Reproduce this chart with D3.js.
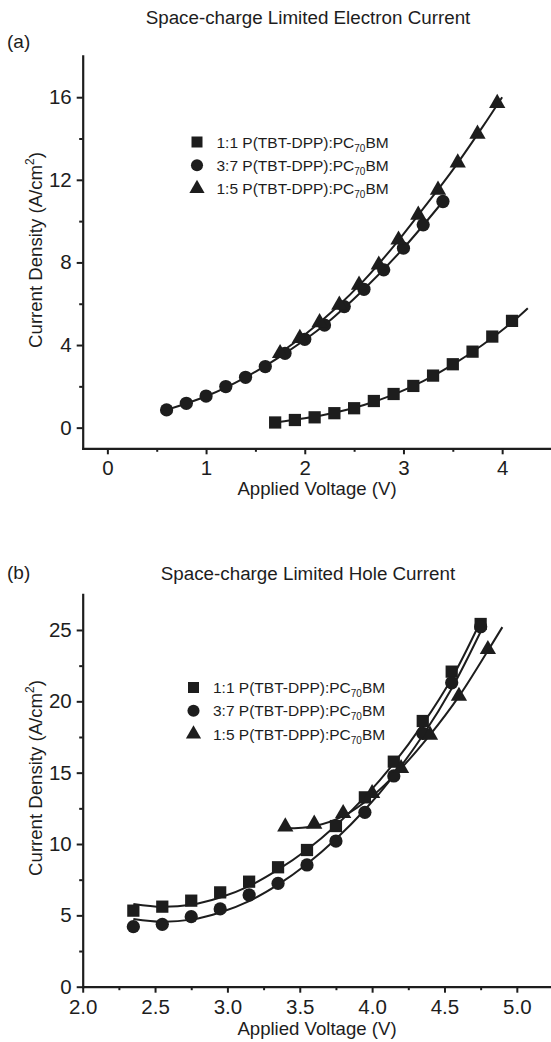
<!DOCTYPE html>
<html>
<head>
<meta charset="utf-8">
<script src="https://cdn.jsdelivr.net/npm/d3@7"></script>
<style>
  body { margin: 0; background: #fff; }
  svg { display: block; font-family: "Liberation Sans", Arial, sans-serif; }
</style>
</head>
<body>
<svg id="chart" width="551" height="1042"></svg>
<script>
// legend text (ratio, subscript split around "70")
const seriesRatios = ['1:1', '3:7', '1:5'];

// (a) space-charge limited electron current
const elecVoltSq = [1.7, 1.9, 2.1, 2.3, 2.5, 2.7, 2.9, 3.1, 3.3, 3.5, 3.7, 3.9, 4.1];
const elecCurSq = [0.25, 0.37, 0.5, 0.7, 0.94, 1.29, 1.63, 2.02, 2.52, 3.07, 3.68, 4.41, 5.17];
const elecVoltCi = [0.6, 0.8, 1.0, 1.2, 1.4, 1.6, 1.8, 2.0, 2.2, 2.4, 2.6, 2.8, 3.0, 3.2, 3.4];
const elecCurCi = [0.86, 1.18, 1.53, 1.99, 2.44, 2.96, 3.6, 4.28, 4.97, 5.86, 6.7, 7.64, 8.69, 9.82, 10.95];
const elecVoltTr = [1.75, 1.95, 2.15, 2.35, 2.55, 2.75, 2.95, 3.15, 3.35, 3.55, 3.75, 3.95];
const elecCurTr = [3.6, 4.33, 5.09, 5.94, 6.91, 7.88, 9.09, 10.3, 11.51, 12.83, 14.22, 15.71];

// fitted curves
const elecFitSq = [[1.7, 0.25], [2.0, 0.45], [2.3, 0.72], [2.6, 1.1], [2.9, 1.6], [3.2, 2.25], [3.5, 3.05], [3.8, 4.0], [4.1, 5.1], [4.26, 5.78]];
const elecFitCi = [[0.6, 0.86], [1.0, 1.52], [1.4, 2.44], [1.8, 3.6], [2.2, 4.97], [2.6, 6.7], [3.0, 8.69], [3.4, 10.95]];
const elecFitTr = [[1.7, 3.45], [2.0, 4.5], [2.3, 5.72], [2.6, 7.13], [2.9, 8.78], [3.2, 10.6], [3.5, 12.48], [3.8, 14.55], [4.0, 16.0]];

// (b) space-charge limited hole current
const holeVolt = [2.35, 2.55, 2.75, 2.95, 3.15, 3.35, 3.55, 3.75, 3.95, 4.15, 4.35, 4.55, 4.75];
const holeCurSq = [5.33, 5.61, 6.03, 6.61, 7.36, 8.37, 9.58, 11.26, 13.27, 15.77, 18.62, 22.08, 25.42];
const holeCurCi = [4.21, 4.37, 4.91, 5.45, 6.43, 7.24, 8.53, 10.21, 12.22, 14.77, 17.76, 21.3, 25.23];
const holeVoltTr = [3.4, 3.6, 3.8, 4.0, 4.2, 4.4, 4.6, 4.8];
const holeCurTr = [11.21, 11.4, 12.15, 13.55, 15.3, 17.64, 20.37, 23.64];

const holeFitSq = [[2.35, 5.8], [2.55, 5.6], [2.75, 5.75], [2.95, 6.25], [3.15, 7.05], [3.35, 8.2], [3.55, 9.6], [3.75, 11.3], [3.95, 13.3], [4.15, 15.65], [4.35, 18.4], [4.55, 21.6], [4.74, 25.4]];
const holeFitCi = [[2.35, 4.75], [2.55, 4.55], [2.75, 4.7], [2.95, 5.2], [3.15, 6.0], [3.35, 7.15], [3.55, 8.6], [3.75, 10.35], [3.95, 12.4], [4.15, 14.8], [4.35, 17.6], [4.55, 20.9], [4.77, 25.3]];
const holeFitTr = [[3.4, 11.1], [3.6, 11.25], [3.8, 11.95], [4.0, 13.35], [4.2, 15.3], [4.4, 17.65], [4.6, 20.35], [4.8, 23.55], [4.9, 25.2]];

// ticks
const elecXMajor = [0, 1, 2, 3, 4];
const elecXMinor = [0.5, 1.5, 2.5, 3.5, 4.5];
const elecYMajor = [0, 4, 8, 12, 16];
const elecYMinor = [2, 6, 10, 14];
const holeXMajor = [2.0, 2.5, 3.0, 3.5, 4.0, 4.5, 5.0];
const holeXMinor = [2.25, 2.75, 3.25, 3.75, 4.25, 4.75];
const holeYMajor = [0, 5, 10, 15, 20, 25];
const holeYMinor = [2.5, 7.5, 12.5, 17.5, 22.5];

const ink = '#1d1d1d';
const svg = d3.select('#chart');
const zip = (xs, ys) => xs.map((v, i) => [v, ys[i]]);

function drawPanel(p) {
  let g = svg.append('g');
  let x = d3.scaleLinear().domain(p.xDomain).range(p.xRange);
  let y = d3.scaleLinear().domain(p.yDomain).range(p.yRange);
  let bottom = p.yRange[0];
  let left = p.xRange[0];

  // minor ticks
  g.append('g').attr('transform', `translate(0,${bottom})`)
    .call(d3.axisBottom(x).tickValues(p.xMinor).tickSize(3.5).tickFormat(''))
    .call(a => a.select('.domain').remove());
  g.append('g').attr('transform', `translate(${left},0)`)
    .call(d3.axisLeft(y).tickValues(p.yMinor).tickSize(3.5).tickFormat(''))
    .call(a => a.select('.domain').remove());

  // major ticks + axis lines
  g.append('g').attr('class', 'ax').attr('transform', `translate(0,${bottom})`)
    .call(d3.axisBottom(x).tickValues(p.xMajor).tickSize(6).tickPadding(6.5).tickSizeOuter(0).tickFormat(p.xFmt));
  g.append('g').attr('class', 'ax').attr('transform', `translate(${left},0)`)
    .call(d3.axisLeft(y).tickValues(p.yMajor).tickSize(6).tickPadding(5).tickSizeOuter(0).tickFormat(d3.format('d')));

  g.selectAll('.tick line').attr('stroke', ink).attr('stroke-width', 2);
  g.selectAll('.domain').attr('stroke', ink).attr('stroke-width', 2.2).attr('stroke-linecap', 'square');
  g.selectAll('.ax text').attr('fill', ink).style('font-size', '20.5px');

  // fitted lines
  let line = d3.line().x(d => x(d[0])).y(d => y(d[1])).curve(d3.curveCatmullRom.alpha(0.5));
  g.selectAll('path.fit').data(p.fits).join('path')
    .attr('class', 'fit')
    .attr('d', line)
    .attr('fill', 'none')
    .attr('stroke', ink)
    .attr('stroke-width', 2);

  // markers
  p.series.forEach((s, i) => {
    let sym = d3.symbol().type(symbolTypes[i]).size(markerSizes[i]);
    g.append('g').selectAll('path').data(s).join('path')
      .attr('transform', d => `translate(${x(d[0])},${y(d[1])})`)
      .attr('d', sym)
      .attr('fill', ink);
  });

  // legend
  let lg = g.append('g');
  seriesRatios.forEach((r, i) => {
    let cy = p.legendY + i * 23.3;
    lg.append('path')
      .attr('transform', `translate(${p.legendX},${cy})`)
      .attr('d', d3.symbol().type(symbolTypes[i]).size(legendSizes[i]))
      .attr('fill', ink);
    let t = lg.append('text')
      .attr('x', p.legendX + 19.5).attr('y', cy + 5.6)
      .attr('fill', ink).style('font-size', '15.5px');
    t.append('tspan').text(r + ' P(TBT-DPP):PC');
    t.append('tspan').text('70').style('font-size', '10px').attr('dy', 4);
    t.append('tspan').text('BM').attr('dy', -4);
  });

  // titles
  g.append('text').attr('x', 308).attr('y', p.titleY).attr('text-anchor', 'middle')
    .attr('fill', ink).style('font-size', '18.8px').text(p.title);
  g.append('text').attr('x', 7).attr('y', p.tagY)
    .attr('fill', ink).style('font-size', '19px').text(p.tag);
  g.append('text').attr('x', 317).attr('y', p.xLabelY).attr('text-anchor', 'middle')
    .attr('fill', ink).style('font-size', '18.6px').text('Applied Voltage (V)');
  let yl = g.append('text')
    .attr('transform', `translate(42,${p.yLabelC}) rotate(-90)`)
    .attr('text-anchor', 'middle')
    .attr('fill', ink).style('font-size', '18.6px');
  yl.append('tspan').text('Current Density (A/cm');
  yl.append('tspan').text('2').style('font-size', '12px').attr('dy', -8);
  yl.append('tspan').text(')').attr('dy', 8);
}

const symbolTypes = [d3.symbolSquare, d3.symbolCircle, d3.symbolTriangle];
const markerSizes = [150, 138, 115];
const legendSizes = [121, 115, 100];

drawPanel({
  xDomain: [-0.25, 4.5], xRange: [82.7, 551.5],
  yDomain: [-1, 18], yRange: [448.3, 55.9],
  xMajor: elecXMajor, xMinor: elecXMinor, yMajor: elecYMajor, yMinor: elecYMinor,
  xFmt: d3.format('d'),
  fits: [elecFitSq, elecFitCi, elecFitTr],
  series: [zip(elecVoltSq, elecCurSq), zip(elecVoltCi, elecCurCi), zip(elecVoltTr, elecCurTr)],
  legendX: 197, legendY: 142,
  title: 'Space-charge Limited Electron Current', titleY: 23.5,
  tag: '(a)', tagY: 48,
  xLabelY: 495, yLabelC: 250
});

drawPanel({
  xDomain: [2, 5.25], xRange: [82.7, 553],
  yDomain: [0, 27.5], yRange: [986.7, 594.3],
  xMajor: holeXMajor, xMinor: holeXMinor, yMajor: holeYMajor, yMinor: holeYMinor,
  xFmt: d3.format('.1f'),
  fits: [holeFitSq, holeFitCi, holeFitTr],
  series: [zip(holeVolt, holeCurSq), zip(holeVolt, holeCurCi), zip(holeVoltTr, holeCurTr)],
  legendX: 193.5, legendY: 687.5,
  title: 'Space-charge Limited Hole Current', titleY: 580,
  tag: '(b)', tagY: 579,
  xLabelY: 1035, yLabelC: 778
});
</script>
</body>
</html>
